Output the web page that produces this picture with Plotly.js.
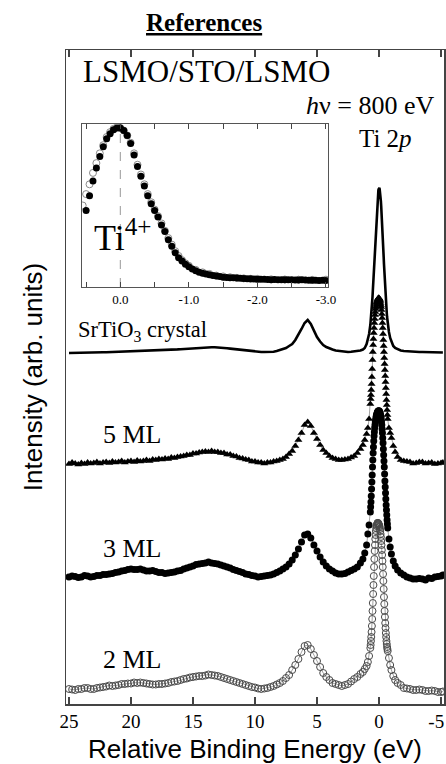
<!DOCTYPE html>
<html>
<head>
<meta charset="utf-8">
<script src="https://cdn.plot.ly/plotly-3.0.1.min.js"></script>
<style>html,body{margin:0;padding:0;background:#fff;}#chart{width:446px;height:764px;}</style>
</head>
<body>
<div id="chart"></div>
<script>
// ---- DATA ----
// Relative binding energy grid (eV), shared by the four spectra
const energy = [
  25, 24.75, 24.5, 24.25, 24, 23.75, 23.5, 23.25, 23, 22.75, 22.5, 22.25, 22, 21.75, 21.5, 21.25, 21,
  20.75, 20.5, 20.25, 20, 19.75, 19.5, 19.25, 19, 18.75, 18.5, 18.25, 18, 17.75, 17.5, 17.25, 17,
  16.75, 16.5, 16.25, 16, 15.75, 15.5, 15.25, 15, 14.75, 14.5, 14.25, 14, 13.75, 13.5, 13.25, 13,
  12.75, 12.5, 12.25, 12, 11.75, 11.5, 11.25, 11, 10.75, 10.5, 10.25, 10, 9.75, 9.5, 9.25, 9, 8.75, 8.5, 8.25,
  8, 7.75, 7.5, 7.25, 7, 6.75, 6.5, 6.25, 6, 5.75, 5.5, 5.25, 5, 4.75, 4.5, 4.25, 4, 3.75, 3.5, 3.25, 3,
  2.75, 2.5, 2.25, 2, 1.75, 1.5, 1.3, 1.15, 1, 0.9, 0.8,
  0.7, 0.675, 0.65, 0.625, 0.6, 0.575, 0.55, 0.525, 0.5, 0.475, 0.45, 0.425, 0.4, 0.375, 0.35, 0.325,
  0.3, 0.275, 0.25, 0.225, 0.2, 0.175, 0.15, 0.125, 0.1, 0.075, 0.05, 0.025, 0, -0.025, -0.05, -0.075,
  -0.1, -0.125, -0.15, -0.175, -0.2, -0.225, -0.25, -0.275, -0.3, -0.325, -0.35, -0.375, -0.4, -0.425,
  -0.45, -0.475, -0.5, -0.525, -0.55, -0.575, -0.6, -0.625, -0.65, -0.675, -0.7,
  -0.8, -0.9, -1, -1.15, -1.3, -1.5, -1.75, -2, -2.25, -2.5, -2.75, -3, -3.25, -3.5, -3.75, -4, -4.25, -4.5, -4.75, -5, -5.15
];

// Intensities (arb. units) above each spectrum's own baseline
const srtio3Crystal = [
  0, 0, 0, 0, 0, 0.2, 0.3, 0.4, 0.5, 0.55, 0.6, 0.7, 0.8, 0.9, 1, 1, 1,
  1.1, 1.2, 1.35, 1.5, 1.6, 1.7, 1.85, 2, 2.1, 2.2, 2.35, 2.5, 2.65, 2.8, 2.9, 3,
  3.2, 3.4, 3.6, 3.8, 4.05, 4.3, 4.55, 4.8, 5.05, 5.3, 5.5, 5.7, 5.8, 5.8, 5.7, 5.6,
  5.35, 5.1, 4.75, 4.4, 4, 3.6, 3.2, 2.8, 2.4, 2, 1.7, 1.4, 1.2, 1, 0.95, 0.9, 1, 1.2, 2,
  3, 4, 5, 7, 9, 13, 18, 24, 30, 33, 29, 22, 16, 11.5, 8, 6, 4.5, 3.5, 2.5, 2, 1.5,
  1.2, 1, 1.2, 1.5, 2, 2.5, 3.5, 5, 9, 13, 19,
  28, 31, 34, 38, 42, 46, 51, 56, 62, 68, 74, 80, 87, 94, 101, 108,
  115, 122, 128, 135, 141, 146, 151, 155, 158, 161, 163, 164, 165, 165, 164, 162,
  159, 156, 152, 147, 142, 136, 130, 124, 117, 110, 103, 96, 89, 82,
  76, 70, 64, 58, 53, 48, 44, 40, 36, 33, 30,
  21, 15, 11, 7, 5, 3.5, 2.5, 2, 1.7, 1.5, 1.2, 1, 1, 1, 0.9, 0.8, 0.8, 0.8, 0.6, 0.5, 0.5
];
const ml5 = [
  0, 1.5, 0.5, -0.5, 1, 0, 1.5, 0.5, 1, 2, 0.5, 1.5, 2, 1, 2.5, 1.5, 2,
  3, 1.5, 2.5, 3, 2, 3.5, 2.5, 3, 4, 3, 4.5, 4, 5, 4.5, 5.5, 5,
  6.5, 6, 7, 7.5, 8, 9, 9, 10.5, 10.5, 11.5, 12, 12.5, 12, 13, 12, 12,
  11, 11, 9.5, 9.5, 8, 7.5, 6, 5.5, 4.5, 4, 2.5, 2.5, 1.5, 1.5, 0.5, 1.5, 1.5, 2.5, 3,
  4, 5, 7, 10, 13, 18, 24, 31, 39, 42, 38, 31, 25, 19, 14, 11, 8, 6, 5, 4, 4,
  4.5, 5, 6.5, 8, 11, 15, 19, 24, 30, 36, 45,
  60, 65, 69, 74, 80, 87, 95, 104, 112, 119, 125, 131, 136, 141, 145, 149,
  152, 155, 157, 159, 161, 162, 163, 164, 165, 165, 166, 166, 166, 165, 165, 164,
  163, 161, 159, 157, 154, 150, 146, 141, 136, 130, 124, 118, 112, 106,
  100, 94, 88, 82, 76, 70, 64, 59, 54, 49, 45,
  36, 31, 26, 18, 12, 7, 4, 3, 2.5, 2, 0.5, 1, 2, 2, 0.5, 1, 1.5, 0, 0.5, 1, 1.5
];
const ml3 = [
  0, 1, 0.5, -0.5, 0, 1.5, 1, 0, 0.5, 1.5, 1.5, 2.5, 2.5, 3, 3.5, 4.5, 5,
  6, 6.5, 7.5, 8, 7.5, 7.5, 8, 7, 6, 6, 6.5, 5.5, 4.5, 4.5, 3.5, 4,
  4.5, 5, 6, 6.5, 8, 9, 10, 11, 12.5, 13, 13.5, 14, 15, 14, 13.5, 13,
  12, 11, 10, 9, 7.5, 6.5, 5.5, 4.5, 3, 2.5, 1.5, 1, 0, 0.5, 1, 1.5, 2, 3, 4.5,
  6, 8, 10, 13, 17, 22, 28, 35, 42, 43, 39, 32, 26, 20, 15, 11, 8, 6, 4, 3, 3,
  3.5, 5, 6.5, 8, 10, 14, 18, 24, 32, 43, 52,
  65, 70, 75, 81, 88, 95, 102, 110, 117, 124, 130, 136, 141, 145, 149, 152,
  155, 157, 159, 161, 162, 163, 164, 165, 165, 166, 166, 166, 166, 166, 165, 164,
  163, 162, 160, 158, 155, 152, 148, 144, 139, 134, 128, 122, 116, 110,
  103, 96, 90, 84, 78, 72, 67, 62, 57, 53, 49,
  38, 30, 23, 16, 11, 7, 4, 2, 0, -1, -2, -2, -1.5, -2, -3, -1, -1.5, 0, 0.5, 1, 2
];
const ml2 = [
  0, -0.5, -1, 0, 0, 1, 1, 0, 0, 1, 1.5, 2, 2.5, 3.5, 3, 3.5, 4,
  5, 5, 5.5, 5.5, 6.5, 6, 6.5, 6, 5.5, 5, 4.5, 4.5, 5, 5, 5.5, 6,
  7, 7.5, 8, 9, 10, 10.5, 11.5, 12, 12.5, 13, 13, 13.5, 14.5, 14, 13.5, 13,
  12, 11, 10, 9, 8, 7, 6, 5, 4, 3, 2, 1.5, 0.5, 0, 0.5, 1, 2, 3, 4.5,
  6, 8, 11, 14, 19, 24, 30, 37, 43, 44, 40, 34, 28, 22, 16, 12, 9, 6, 5, 4, 3,
  4, 5, 7.5, 10, 12, 15, 17, 20, 23, 27, 33,
  41, 44, 48, 52, 57, 63, 70, 78, 86, 95, 104, 113, 122, 130, 138, 144,
  150, 154, 158, 161, 163, 164, 165, 166, 166, 166, 165, 165, 164, 163, 162, 160,
  158, 155, 152, 148, 144, 139, 134, 128, 122, 115, 108, 100, 92, 85,
  78, 72, 66, 61, 56, 52, 48, 45, 42, 40, 38,
  31, 24, 19, 13, 9, 6, 4, 1, 0.5, 0, -1, -1, -0.5, -1, -2, -2, -1.5, -2, -3, -3, -2.5
];
// vertical stacking offsets of the spectra (arb. units)
const stackOffset = {sto: 351, ml5: 240, ml3: 127, ml2: 15};

// Inset: normalised Ti4+ peak
const insetEnergyA = [
  0.5, 0.45, 0.4, 0.35, 0.3, 0.25, 0.2, 0.15, 0.1, 0.05, 0, -0.05, -0.1, -0.15, -0.2, -0.25, -0.3, -0.35, -0.4, -0.45,
  -0.5, -0.55, -0.6, -0.65, -0.7, -0.75, -0.8, -0.85, -0.9, -0.95, -1, -1.05, -1.1, -1.15, -1.2, -1.25, -1.3, -1.35, -1.4, -1.45, -1.5,
  -1.55, -1.6, -1.65, -1.7, -1.75, -1.8, -1.85, -1.9, -1.95, -2, -2.05, -2.1, -2.15, -2.2, -2.25,
  -2.3, -2.35, -2.4, -2.45, -2.5, -2.55, -2.6, -2.65, -2.7, -2.75, -2.8, -2.85, -2.9, -2.95, -3
];
const insetFilled = [
  0.47, 0.56, 0.65, 0.73, 0.80, 0.86, 0.91, 0.94, 0.965, 0.975, 0.975, 0.96, 0.93, 0.88, 0.81, 0.74, 0.68, 0.62, 0.56, 0.51,
  0.47, 0.43, 0.38, 0.34, 0.29, 0.25, 0.21, 0.18, 0.16, 0.14, 0.125, 0.11, 0.10, 0.09, 0.085, 0.08, 0.075, 0.07, 0.068, 0.065, 0.06,
  0.059, 0.057, 0.056, 0.055, 0.053, 0.052, 0.051, 0.05, 0.049, 0.048, 0.048, 0.047, 0.046, 0.045, 0.046,
  0.045, 0.044, 0.044, 0.045, 0.044, 0.043, 0.043, 0.044, 0.043, 0.042, 0.042, 0.041, 0.04, 0.041, 0.04
];
const insetEnergyB = [
  0.55, 0.5, 0.45, 0.4, 0.35, 0.3, 0.25, 0.2, 0.15, 0.1, 0.05, 0, -0.05, -0.1, -0.15, -0.2, -0.25, -0.3, -0.35, -0.4,
  -0.45, -0.5, -0.55, -0.6, -0.65, -0.7, -0.75, -0.8, -0.85, -0.9, -0.95, -1,
  -1.1, -1.2, -1.3, -1.4, -1.5, -1.6, -1.7, -1.8, -1.9, -2, -2.2, -2.4, -2.6, -2.8, -3
];
const insetOpen = [
  0.50, 0.57, 0.63, 0.70, 0.76, 0.82, 0.87, 0.92, 0.95, 0.97, 0.98, 0.975, 0.96, 0.93, 0.885, 0.82, 0.75, 0.69, 0.63, 0.57,
  0.52, 0.475, 0.435, 0.39, 0.345, 0.30, 0.26, 0.22, 0.19, 0.165, 0.145, 0.13,
  0.105, 0.09, 0.08, 0.07, 0.065, 0.06, 0.056, 0.053, 0.05, 0.05, 0.047, 0.046, 0.045, 0.044, 0.045
];

const mainTicks = [25, 20, 15, 10, 5, 0, -5];
// last label is nudged inward with a trailing figure space so it stays inside the page
const mainTickText = ['25', '20', '15', '10', '5', '0', '-5\u2007'];
const insetTickVals = [0, -1, -2, -3];
const insetTickText = ['0.0', '-1.0', '-2.0', '-3.0'];
const insetMinorTicks = [0.5, -0.5, -1.5, -2.5];

// ---- CHART ----
const serif = 'Liberation Serif, Times New Roman, serif';
const sans = 'Liberation Sans, Arial, Helvetica, sans-serif';
const shift = (arr, off) => arr.map(v => v + off);

const traces = [
  {x: energy, y: shift(ml2, stackOffset.ml2), mode: 'lines+markers', name: '2 ML',
   line: {color: '#8a8a8a', width: 0.8},
   marker: {symbol: 'circle-open', size: 7, color: '#4a4a4a', line: {width: 1}}},
  {x: energy, y: shift(ml3, stackOffset.ml3), mode: 'lines+markers', name: '3 ML',
   line: {color: '#8a8a8a', width: 0.8},
   marker: {symbol: 'circle', size: 7, color: '#000'}},
  {x: energy, y: shift(ml5, stackOffset.ml5), mode: 'lines+markers', name: '5 ML',
   line: {color: '#8a8a8a', width: 0.8},
   marker: {symbol: 'triangle-up', size: 7, color: '#000'}},
  {x: energy, y: shift(srtio3Crystal, stackOffset.sto), mode: 'lines', name: 'SrTiO3 crystal',
   line: {color: '#000', width: 2.6}},
  {x: insetEnergyB, y: insetOpen, xaxis: 'x2', yaxis: 'y2', mode: 'markers', name: 'inset open',
   marker: {symbol: 'circle-open', size: 7, color: '#8a8a8a', line: {width: 1}}},
  {x: insetEnergyA, y: insetFilled, xaxis: 'x2', yaxis: 'y2', mode: 'markers', name: 'inset filled',
   marker: {symbol: 'circle', size: 7, color: '#000'}}
];

const px = v => (v - 66) / 378;          // helper: figure pixel -> paper x
const py = v => (704 - v) / 654;         // helper: figure pixel -> paper y

const ann = (text, x, y, size, xanchor) => ({
  text: text, xref: 'paper', yref: 'paper', x: px(x), y: py(y), xanchor: xanchor, yanchor: 'middle',
  showarrow: false, font: {family: serif, size: size, color: '#000'}
});

const layout = {
  width: 446, height: 764,
  margin: {l: 66, r: 2, t: 50, b: 60},
  paper_bgcolor: '#fff', plot_bgcolor: '#fff',
  showlegend: false,
  xaxis: {
    range: [25.24, -5.24], tickvals: mainTicks, ticktext: mainTickText,
    ticks: 'inside', ticklen: 7, tickcolor: '#444', tickwidth: 1.2,
    showline: true, linecolor: '#444', linewidth: 1.5, mirror: 'ticks', showgrid: false, zeroline: false,
    ticklabeloverflow: 'allow',
    tickfont: {family: serif, size: 19, color: '#000'},
    title: {text: 'Relative Binding Energy (eV)', font: {family: sans, size: 26, color: '#000'}, standoff: 8}
  },
  yaxis: {
    range: [0, 654], showticklabels: false, ticks: '', showline: true, linecolor: '#444', linewidth: 1.5,
    mirror: true, showgrid: false, zeroline: false,
    title: {text: 'Intensity (arb. units)', font: {family: sans, size: 26, color: '#000'}, standoff: 14}
  },
  xaxis2: {
    domain: [px(82), px(328)], anchor: 'y2', range: [0.56, -3.03],
    tickvals: insetTickVals, ticktext: insetTickText, ticks: 'inside', ticklen: 5, tickcolor: '#444', tickwidth: 1,
    minor: {tickvals: insetMinorTicks, ticks: 'inside', ticklen: 5, tickcolor: '#444', tickwidth: 1, showgrid: false},
    showline: true, linecolor: '#555', linewidth: 1.2, mirror: 'ticks', showgrid: false, zeroline: false,
    ticklabeloverflow: 'allow',
    tickfont: {family: serif, size: 13, color: '#000'}
  },
  yaxis2: {
    domain: [py(287), py(124)], anchor: 'x2', range: [0, 1.0], showticklabels: false, ticks: '',
    showline: true, linecolor: '#555', linewidth: 1.2, mirror: true, showgrid: false, zeroline: false
  },
  shapes: [
    {type: 'line', xref: 'x2', yref: 'y2', x0: 0, x1: 0, y0: 0, y1: 0.95, layer: 'below',
     line: {color: '#aaa', width: 1.2, dash: 'dash'}}
  ],
  annotations: [
    ann('<b><u>References</u></b>', 203.5, 23, 25, 'center'),
    ann('LSMO/STO/LSMO', 81, 71, 31, 'left'),
    ann('<i>h</i>ν = 800 eV', 436, 105, 26, 'right'),
    ann('Ti 2<i>p</i>', 385, 138, 25, 'center'),
    ann('SrTiO<sub>3</sub> crystal', 76, 331, 22.5, 'left'),
    ann('5 ML', 101, 434, 26, 'left'),
    ann('3 ML', 101, 548, 26, 'left'),
    ann('2 ML', 101, 659, 26, 'left'),
    ann('Ti<sup>4+</sup>', 92, 236, 36, 'left')
  ]
};

Plotly.newPlot('chart', traces, layout, {displayModeBar: false, staticPlot: true});
</script>
</body>
</html>
